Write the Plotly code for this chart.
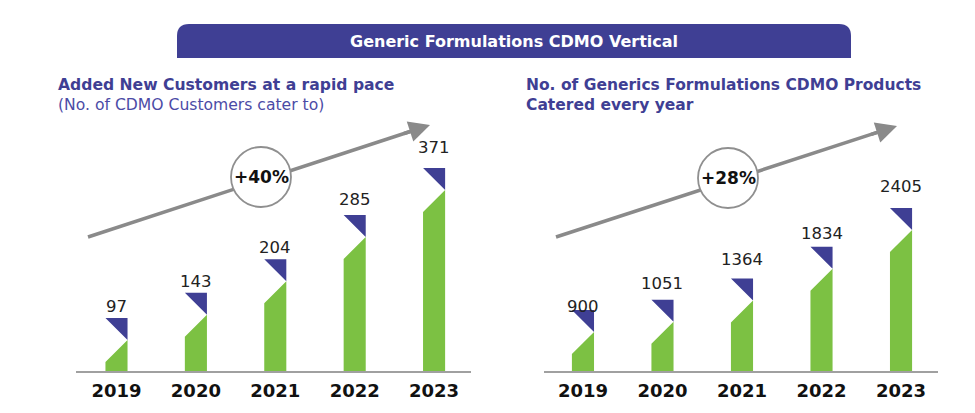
import plotly.graph_objects as go

# The page body adds an 8px margin, so the figure is laid out in page coordinates
OFF = 8
W, H = 975 - OFF, 413 - OFF

years = ["2019", "2020", "2021", "2022", "2023"]
customers = [97, 143, 204, 285, 371]
products = [900, 1051, 1364, 1834, 2405]
cagr_left = "+40%"
cagr_right = "+28%"

header = "Generic Formulations CDMO Vertical"
left_title = "Added New Customers at a rapid pace"
left_sub = "(No. of CDMO Customers cater to)"
right_title = ["No. of Generics Formulations CDMO Products", "Catered every year"]

GREEN = "#7CC143"
NAVY = "#3F3F94"
GRAY = "#8a8a8a"
FONT = "DejaVu Sans, Verdana, sans-serif"


def px(x):
    return (x - OFF) / W


def py(y):
    return 1 - (y - OFF) / H


fig = go.Figure()

BAR_HALF = 0.139
PLOT_TOP_PX = 100
BASE_PX = 371
TRI_PX = 22
cfg = [
    dict(vals=customers, xa="x", ya="y", ymax=495, dom=[76, 471], xr=[-0.51, 4.465]),
    dict(vals=products, xa="x2", ya="y2", ymax=4000, dom=[544, 938], xr=[-0.49, 4.465]),
]
label_shift = [[0, 0, 0, 4, 9], [-8, 5, 8, 2, 10]]

for k, c in enumerate(cfg):
    vals = c["vals"]
    unit = c["ymax"] / (BASE_PX - PLOT_TOP_PX)  # data units per pixel
    t = TRI_PX * unit
    gx, gy, tx, ty = [], [], [], []
    for i, v in enumerate(vals):
        l, r = i - BAR_HALF, i + BAR_HALF
        gx += [l, r, r, l, l, None]
        gy += [0, 0, v - t, v - 2 * t, 0, None]
        tx += [l, r, r, l, None]
        ty += [v, v, v - t, v, None]
    fig.add_trace(go.Scatter(x=gx, y=gy, fill="toself", fillcolor=GREEN, mode="lines",
                             line=dict(width=0, color=GREEN), hoverinfo="skip",
                             xaxis=c["xa"], yaxis=c["ya"], showlegend=False))
    fig.add_trace(go.Scatter(x=tx, y=ty, fill="toself", fillcolor=NAVY, mode="lines",
                             line=dict(width=0, color=NAVY), hoverinfo="skip",
                             xaxis=c["xa"], yaxis=c["ya"], showlegend=False))
    for i, v in enumerate(vals):
        fig.add_annotation(x=i, y=v, xref=c["xa"], yref=c["ya"], text=str(v),
                           showarrow=False, xanchor="center", yanchor="bottom",
                           yshift=label_shift[k][i],
                           font=dict(family=FONT, size=16.5, color="#222222"))

common_x = dict(tickmode="array", tickvals=list(range(5)), ticktext=years,
                showgrid=False, zeroline=False, showline=True, linecolor="#a0a0a0",
                linewidth=2, ticks="", fixedrange=True, ticklabelstandoff=2,
                tickfont=dict(family=FONT, size=18, color="#111111", weight="bold"))
common_y = dict(visible=False, showgrid=False, zeroline=False, fixedrange=True)

fig.update_layout(
    width=W, height=H, margin=dict(l=0, r=0, t=0, b=0),
    paper_bgcolor="white", plot_bgcolor="white", showlegend=False,
    xaxis=dict(domain=[px(cfg[0]["dom"][0]), px(cfg[0]["dom"][1])], range=cfg[0]["xr"],
               anchor="y", **common_x),
    yaxis=dict(domain=[py(BASE_PX), py(PLOT_TOP_PX)], range=[0, cfg[0]["ymax"]],
               anchor="x", **common_y),
    xaxis2=dict(domain=[px(cfg[1]["dom"][0]), px(cfg[1]["dom"][1])], range=cfg[1]["xr"],
                anchor="y2", **common_x),
    yaxis2=dict(domain=[py(BASE_PX), py(PLOT_TOP_PX)], range=[0, cfg[1]["ymax"]],
                anchor="x2", **common_y),
)

# Header banner with rounded top corners
x0, x1, y0, y1, rr = px(177), px(851), py(58), py(24), 12
rx, ry = rr / W, rr / H
path = (f"M {x0},{y0} L {x0},{y1 - ry} Q {x0},{y1} {x0 + rx},{y1} "
        f"L {x1 - rx},{y1} Q {x1},{y1} {x1},{y1 - ry} L {x1},{y0} Z")
fig.add_shape(type="path", path=path, xref="paper", yref="paper",
              fillcolor=NAVY, line=dict(width=0), layer="below")
fig.add_annotation(x=px(514), y=py(41), xref="paper", yref="paper", text=header,
                   showarrow=False, xanchor="center", yanchor="middle",
                   font=dict(family=FONT, size=16, color="white", weight="bold"))

# Titles
fig.add_annotation(x=px(56), y=py(85), xref="paper", yref="paper", text=left_title,
                   showarrow=False, xanchor="left", yanchor="middle",
                   font=dict(family=FONT, size=15.6, color=NAVY, weight="bold"))
fig.add_annotation(x=px(56), y=py(105), xref="paper", yref="paper", text=left_sub,
                   showarrow=False, xanchor="left", yanchor="middle",
                   font=dict(family=FONT, size=15.6, color="#4b4ba6"))
for j, line in enumerate(right_title):
    fig.add_annotation(x=px(524), y=py(85 + 20 * j), xref="paper", yref="paper", text=line,
                       showarrow=False, xanchor="left", yanchor="middle",
                       font=dict(family=FONT, size=15.5, color=NAVY, weight="bold"))

# Growth arrows and CAGR circles
for (sx, sy, ex, ey, cx, cy, txt) in [
    (88, 237, 430, 125, 261, 177, cagr_left),
    (556, 237, 897, 126, 728, 178, cagr_right),
]:
    fx = sx + (ex - sx) * 0.96
    fy = sy + (ey - sy) * 0.96
    fig.add_shape(type="line", xref="paper", yref="paper",
                  x0=px(sx), y0=py(sy), x1=px(fx), y1=py(fy),
                  line=dict(color=GRAY, width=3.5))
    fig.add_annotation(x=px(ex), y=py(ey), xref="paper", yref="paper",
                       ax=(sx - ex) * 0.08, ay=(sy - ey) * 0.08, showarrow=True, text="",
                       arrowhead=2, arrowsize=1.2, arrowwidth=3.5, arrowcolor=GRAY)
    r = 30
    fig.add_shape(type="circle", xref="paper", yref="paper",
                  x0=px(cx - r), x1=px(cx + r), y0=py(cy + r), y1=py(cy - r),
                  fillcolor="white", line=dict(color="#8f8f8f", width=1.8))
    fig.add_annotation(x=px(cx), y=py(cy), xref="paper", yref="paper", text=txt,
                       showarrow=False, xanchor="center", yanchor="middle",
                       font=dict(family=FONT, size=17, color="#111111", weight="bold"))

fig.write_html("out.html")
